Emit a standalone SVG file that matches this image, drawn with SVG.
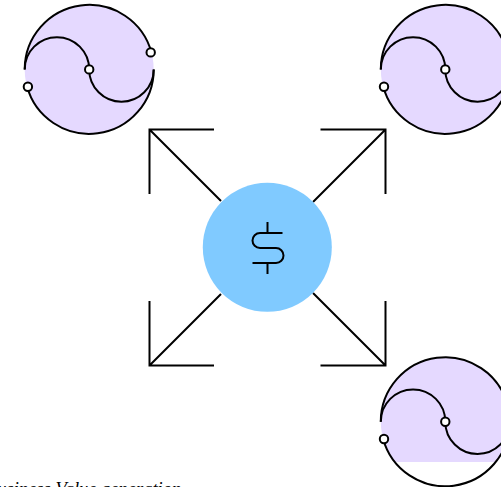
<svg xmlns="http://www.w3.org/2000/svg" width="501" height="487" viewBox="0 0 501 487">
<style>
.ln{fill:none;stroke:#000;stroke-width:2}
.dot{fill:#fff;stroke:#000;stroke-width:2}
.fill{fill:#e5d9ff}
text{font-family:"Liberation Serif",serif;font-style:italic;font-size:18.500px;fill:#000}
</style>
<defs>
<g id="yin">
<path class="ln" d="M-64.500 0A64.500 64.500 0 0 1 62.300 -16.700"/>
<path class="ln" d="M-62.300 16.700A64.500 64.500 0 0 0 64.500 0"/>
<path class="ln" d="M-64.500 0A32.250 32.250 0 0 1 0 0A32.250 32.250 0 0 0 64.500 0"/>
<circle class="dot" cx="-61.300" cy="17.300" r="4.200"/>
<circle class="dot" cx="0" cy="0" r="4.200"/>
<circle class="dot" cx="61.500" cy="-17" r="4.200"/>
</g>
<clipPath id="cut"><rect x="380" y="357" width="121" height="105"/></clipPath>
</defs>
<g id="connectors">
<path class="ln" d="M214 129.500H149.500V194M149.500 129.500L221 201"/>
<path class="ln" d="M320.500 129.500H385.500V194M385.500 129.500L313 202"/>
<path class="ln" d="M214 365.500H149.500V301M149.500 365.500L221 294"/>
<path class="ln" d="M320.500 365.500H385.500V301M385.500 365.500L313 293"/>
</g>
<g id="node-top-left">
<circle class="fill" cx="89.200" cy="69.400" r="64.500"/>
<use href="#yin" x="89.200" y="69.400"/>
</g>
<g id="node-top-right">
<circle class="fill" cx="445.300" cy="69.400" r="64.500"/>
<use href="#yin" x="445.300" y="69.400"/>
</g>
<g id="node-bottom-right">
<circle class="fill" cx="445.300" cy="421.700" r="64.500" clip-path="url(#cut)"/>
<use href="#yin" x="445.300" y="421.700"/>
</g>
<g id="node-center">
<circle cx="267.300" cy="247.300" r="64.500" fill="#80caff"/>
<path class="ln" d="M267.500 222V233M282.500 233H260A7.300 7.300 0 0 0 260 248H276A7.500 7.500 0 0 1 276 263H252.500M267.500 263V274"/>
</g>
<text x="-14" y="494.500">Business Value generation</text>
</svg>
